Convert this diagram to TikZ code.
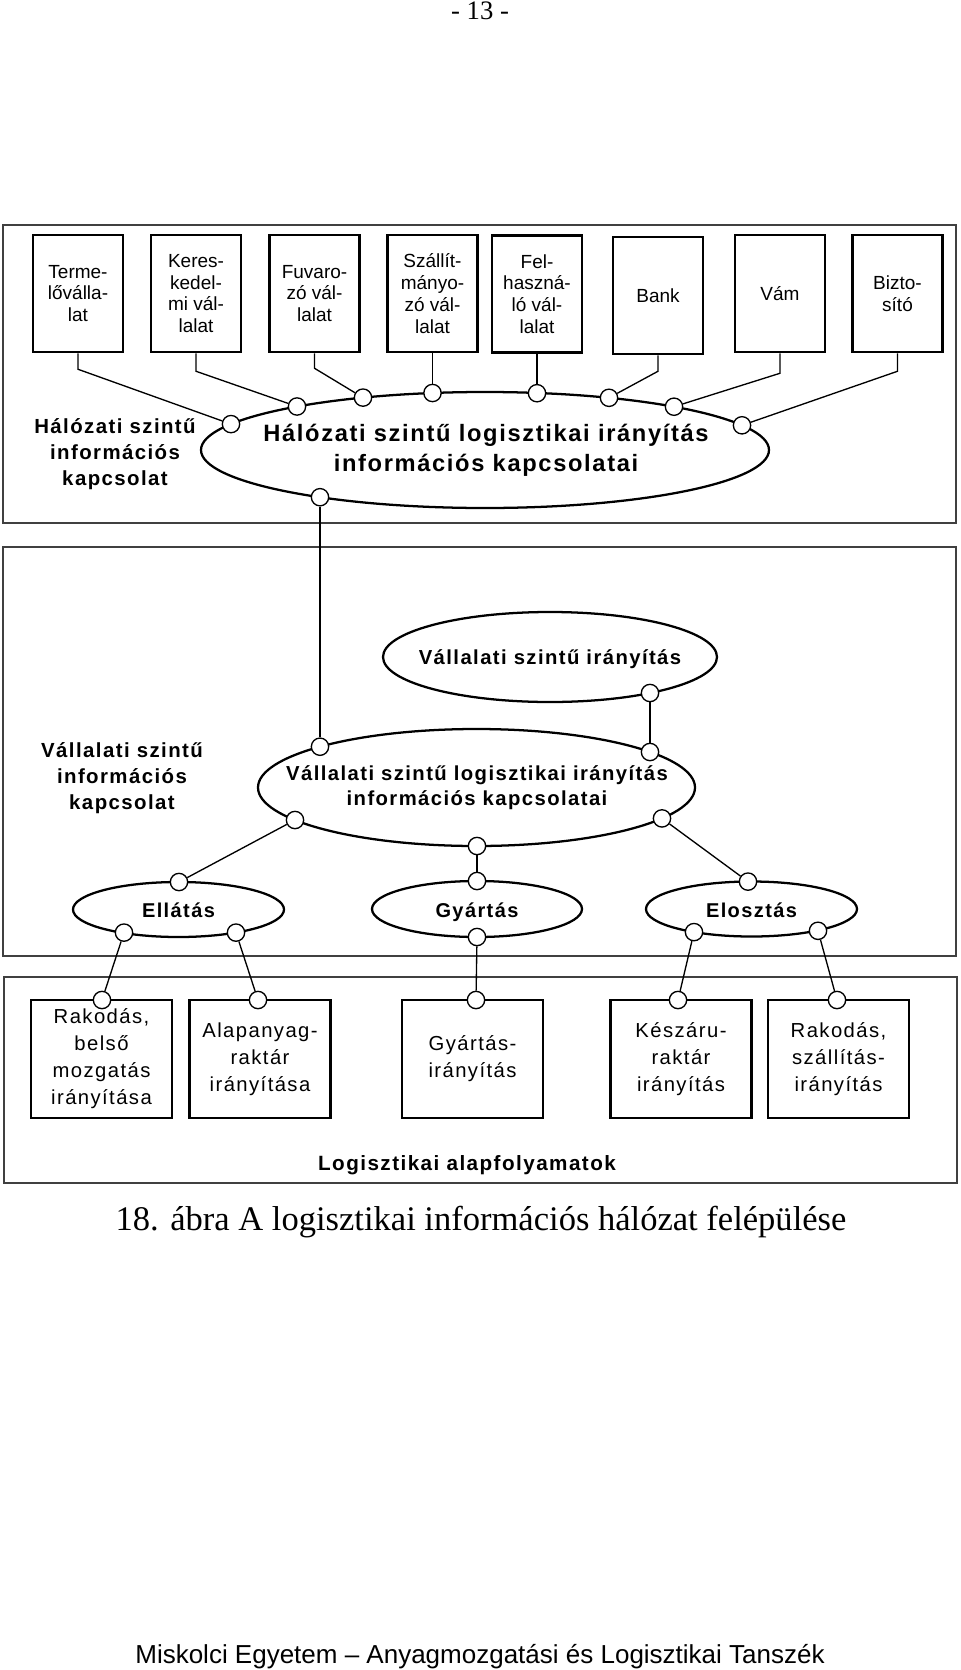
\documentclass[tikz,border=0pt]{standalone}
\usepackage{fontspec}
\setmainfont{Liberation Sans}
\newfontfamily\spacedfont[LetterSpace=7]{Liberation Sans}
\newfontfamily\timesfont{Liberation Serif}
\usetikzlibrary{shapes.geometric}
\begin{document}
\begin{tikzpicture}[x=0.75pt,y=-0.75pt,
  frame/.style={draw=black!75, line width=1.1pt},
  orgbox/.style={draw, line width=1.9pt, minimum width=67.5pt, minimum height=87.75pt, inner sep=0pt, align=center, font=\fontsize{14.25}{16.35}\selectfont},
  procbox/.style={draw, line width=1.9pt, minimum width=106pt, minimum height=88.5pt, inner sep=0pt, align=center, font=\spacedfont\fontsize{15.2}{20.25}\selectfont},
  oval/.style={draw, ellipse, line width=1.7pt, inner sep=0pt},
  dot/.style={draw, circle, fill=white, line width=1pt, minimum size=13pt, inner sep=0pt},
  conn/.style={line width=1pt},
  boldlbl/.style={align=center, inner sep=0pt, font=\spacedfont\bfseries\fontsize{15.3}{19.5}\selectfont},
  ovallbl/.style={anchor=base, inner sep=0pt, font=\spacedfont\bfseries\fontsize{15}{19.5}\selectfont},
]
\useasboundingbox (0,0) rectangle (960,1670);

% page number, caption, footer
\node[anchor=base, inner sep=0pt, font=\timesfont\fontsize{20}{22}\selectfont] (pnum) at (480,20) {- 13 -};
\node[anchor=base, inner sep=0pt, font=\timesfont\fontsize{25.9}{30}\selectfont] (cap) at (481,1230) {18. ábra A logisztikai információs hálózat felépülése};
\node[anchor=base, inner sep=0pt, font=\fontsize{19.5}{22}\selectfont] (foot) at (480,1663) {Miskolci Egyetem – Anyagmozgatási és Logisztikai Tanszék};

% frames
\draw[frame] (3,225) rectangle (956,523);
\draw[frame] (3,547) rectangle (956,956);
\draw[frame] (4,977) rectangle (957,1183);

% ellipses
\node[oval, minimum width=426pt, minimum height=87pt] (e1) at (485,450) {};
\node[oval, minimum width=250.5pt, minimum height=67.5pt] (e2) at (550,657) {};
\node[oval, minimum width=327.75pt, minimum height=87.75pt] (e3) at (476.5,787.5) {};
\node[oval, minimum width=158.25pt, minimum height=41.25pt] (ella) at (178.5,909.5) {};
\node[oval, minimum width=157.5pt, minimum height=42pt] (gyar) at (477,909) {};
\node[oval, minimum width=158.25pt, minimum height=41.25pt] (elos) at (751.5,909) {};

% ellipse texts
\node[align=center, inner sep=0pt, font=\spacedfont\bfseries\fontsize{17.75}{22.5}\selectfont] (t1) at (486,450) {Hálózati szintű logisztikai irányítás\\információs kapcsolatai};
\node[ovallbl, font=\spacedfont\bfseries\fontsize{15.2}{19.5}\selectfont] (t2) at (550,664) {Vállalati szintű irányítás};
\node[align=center, inner sep=0pt, font=\spacedfont\bfseries\fontsize{15.2}{18.75}\selectfont] (t3) at (477,787.5) {Vállalati szintű logisztikai irányítás\\információs kapcsolatai};
\node[ovallbl] (t4) at (178.5,917) {Ellátás};
\node[ovallbl] (t5) at (477,917) {Gyártás};
\node[ovallbl] (t6) at (751.5,917) {Elosztás};

% side labels
\node[boldlbl] (l1) at (115,454) {Hálózati szintű\\információs\\kapcsolat};
\node[boldlbl] (l2) at (122,778) {Vállalati szintű\\információs\\kapcsolat};
\node[anchor=base, inner sep=0pt, font=\spacedfont\bfseries\fontsize{15.5}{19.5}\selectfont] (l3) at (467,1170) {Logisztikai alapfolyamatok};

% top boxes
\node[orgbox] (A) at (78,293.5) {Terme-\\lőválla-\\lat};
\node[orgbox] (B) at (196,293.5) {Keres-\\kedel-\\mi vál-\\lalat};
\node[orgbox] (C) at (314.5,293.5) {Fuvaro-\\zó vál-\\lalat};
\node[orgbox] (D) at (432.5,293.5) {Szállít-\\mányo-\\zó vál-\\lalat};
\node[orgbox] (E) at (537,294) {Fel-\\haszná-\\ló vál-\\lalat};
\node[orgbox] (F) at (658,295.5) {Bank};
\node[orgbox] (G) at (780,293.5) {Vám};
\node[orgbox] (H) at (897.5,293.5) {Bizto-\\sító};

% bottom boxes
\node[procbox] (P1) at (101.5,1059) {Rakodás,\\belső\\mozgatás\\irányítása};
\node[procbox] (P2) at (260,1059) {Alapanyag-\\raktár\\irányítása};
\node[procbox] (P3) at (472.5,1059) {Gyártás-\\irányítás};
\node[procbox] (P4) at (681,1059) {Készáru-\\raktár\\irányítás};
\node[procbox] (P5) at (838.5,1059) {Rakodás,\\szállítás-\\irányítás};

% circles on ellipse 1
\node[dot] (c1) at (231,424.1) {};
\node[dot] (c2) at (297,406.5) {};
\node[dot] (c3) at (363,397.6) {};
\node[dot] (c4) at (432.5,393.0) {};
\node[dot] (c5) at (537,393.2) {};
\node[dot] (c6) at (609,397.8) {};
\node[dot] (c7) at (674,406.7) {};
\node[dot] (c8) at (742,425.3) {};
\node[dot] (c9) at (320,497.2) {};
% ellipse 2
\node[dot] (d1) at (650,693) {};
% ellipse 3
\node[dot] (f1) at (320,746.7) {};
\node[dot] (f2) at (650,752) {};
\node[dot] (f3) at (295,820) {};
\node[dot] (f4) at (477,846) {};
\node[dot] (f5) at (662,818.4) {};
% lower ellipses
\node[dot] (g1) at (179,882) {};
\node[dot] (g2) at (124,932.6) {};
\node[dot] (g3) at (236,932.6) {};
\node[dot] (h1) at (477,881) {};
\node[dot] (h2) at (477,937) {};
\node[dot] (k1) at (748,881.6) {};
\node[dot] (k2) at (694,932.1) {};
\node[dot] (k3) at (818,930.8) {};
% box top circles
\node[dot] (p1) at (102,1000) {};
\node[dot] (p2) at (258,1000) {};
\node[dot] (p3) at (476,1000) {};
\node[dot] (p4) at (678,1000) {};
\node[dot] (p5) at (837,1000) {};

% connectors top
\draw[conn] (A.south) -- ++(0,16) -- (c1);
\draw[conn] (B.south) -- ++(0,18) -- (c2);
\draw[conn] (C.south) -- ++(0,15) -- (c3);
\draw[conn] (D.south) -- (c4);
\draw[conn] (E.south) -- (c5);
\draw[conn] (F.south) -- ++(0,16) -- (c6);
\draw[conn] (G.south) -- ++(0,20) -- (c7);
\draw[conn] (H.south) -- ++(0,18) -- (c8);
% vertical links
\draw[conn] (c9) -- (f1);
\draw[conn] (d1) -- (f2);
\draw[conn] (f3) -- (g1);
\draw[conn] (f4) -- (h1);
\draw[conn] (f5) -- (k1);
% to process boxes
\draw[conn] (g2) -- (p1);
\draw[conn] (g3) -- (p2);
\draw[conn] (h2) -- (p3);
\draw[conn] (k2) -- (p4);
\draw[conn] (k3) -- (p5);
\end{tikzpicture}
\end{document}
